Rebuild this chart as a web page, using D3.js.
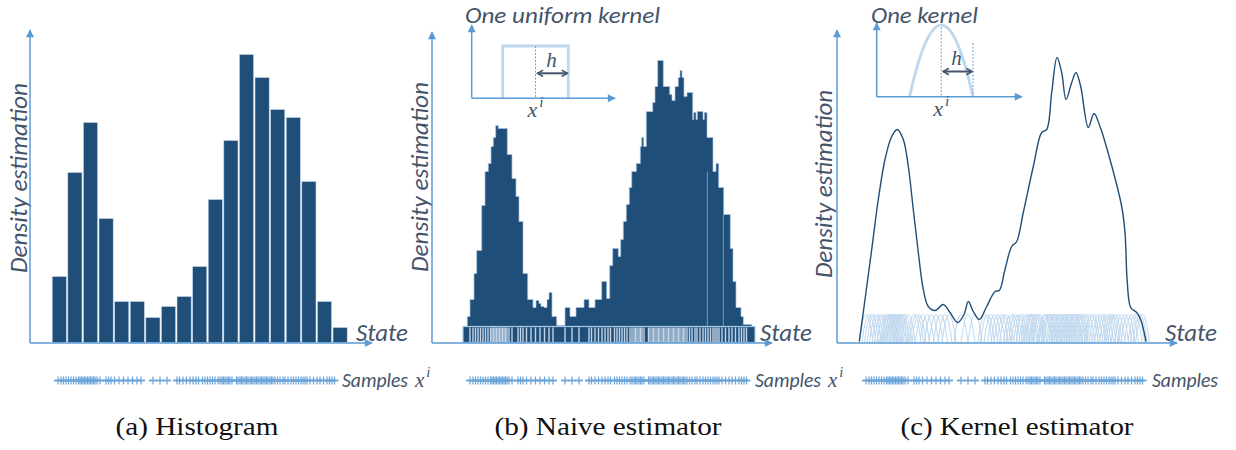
<!DOCTYPE html>
<html>
<head>
<meta charset="utf-8">
<script src="https://cdn.jsdelivr.net/npm/d3@7"></script>
<style>
  body { margin: 0; background: #fff; }
  svg { display: block; }
</style>
</head>
<body>
<div id="chart"></div>
<script>
/* Density estimation: histogram / naive estimator / kernel estimator */

// ---- data (state units 0..278, density in arbitrary units) ----
const samples = [1, 4, 6.5, 9, 11.5, 14, 16.5, 19, 21.5, 23, 24.5, 26, 27.5, 29, 30.5, 32, 33.5, 35, 36.5, 38, 40, 43,
  49, 51.5, 54, 57.5, 62, 66.5, 71, 75.5, 80, 84,
  96, 103, 110,
  120, 122.5, 126, 129.5, 133, 136, 139, 141.5, 145.5, 148, 150.5, 153, 155.5, 158, 161, 163, 165, 166.5, 168, 170,
  171.5, 173, 175, 179.5, 181, 183, 184.5, 186, 188, 189.5, 191, 193, 194.5, 196, 198, 199.5, 201, 203, 204.5, 206,
  208, 209.5, 211, 213, 214.5, 216, 218, 220.5, 223, 226, 228, 231, 234, 236.5, 239, 241.5, 244, 246, 248, 250, 253,
  256.5, 260, 263, 266.5, 270, 272.5, 275, 277.5];

const histEdges = [-5.5, 10.1, 25.7, 41.3, 56.9, 72.5, 88.1, 103.7, 119.3, 134.9, 150.5, 166.1, 181.7, 197.3,
  212.9, 228.5, 244.1, 259.7, 275.3, 290.9];
const histHeights = [6.6, 17.0, 22.0, 12.4, 4.1, 4.1, 2.5, 3.6, 4.6, 7.6, 14.3, 20.2, 28.8, 26.5, 23.3, 22.5, 16.1, 4.1, 1.5];

const naiveEdges = [-1.7, 1, 5, 7.7, 12.7, 16, 19.3, 22, 24.3, 26.7, 29.3, 38.3, 43, 47, 50, 54, 58.7, 64, 67, 70, 72,
  75, 78, 80, 83, 87.7, 96, 101, 107, 115, 120, 126, 132.7, 137.7, 140.7, 143.7, 149.3, 151.7, 154.3, 157.3, 160.3,
  162.7, 167.3, 171.3, 172.7, 174.7, 177.3, 183.7, 186, 188.7, 194.3, 200.7, 203, 206, 209.3, 211, 213, 215, 218,
  223.7, 224.7, 227, 228.3, 234, 235.3, 238, 244, 247, 249.7, 254.7, 261.3, 264, 267, 272, 274.3, 282.7];
const naiveHeights = [2.6, 4.3, 6.9, 9.2, 13.7, 17.1, 17.9, 19.6, 20.5, 21.7, 21.4, 18.8, 16.4, 14.6, 12.1, 6.9, 4.3,
  3.5, 4.2, 3.9, 3.6, 3.5, 4.3, 5.0, 2.6, 1.7, 3.5, 2.6, 3.5, 4.3, 3.5, 4.3, 6.1, 4.4, 7.7, 9.4, 8.6, 10.3, 12.1,
  13.8, 15.5, 17.1, 17.9, 19.6, 20.5, 19.6, 23.1, 24.0, 25.6, 28.2, 25.6, 24.8, 24.2, 25.6, 26.5, 27.2, 26.5, 24.6,
  25.0, 22.3, 23.0, 22.3, 23.1, 22.3, 23.0, 20.5, 17.1, 17.9, 15.5, 12.8, 9.4, 6.1, 3.5, 2.6, 1.8];
const naiveSeams = [238.3, 254.3];

const kdeX = [-5.7, 0, 6.7, 13.3, 20, 26.7, 32.3, 38.3, 43.3, 48.3, 53.3, 58.3, 63.3, 70, 78.3, 85, 92.7, 99, 103.3,
  108.3, 114.3, 121.7, 130, 134.3, 140, 146.7, 151.7, 158.3, 168.3, 176.7, 181.7, 186.7, 192, 196.7, 201, 206.7,
  211, 215.7, 223.3, 229, 235, 245, 256.7, 260, 262.3, 265.7, 271.7, 275.7, 281];
const kdeY = [0.1, 4.3, 9.3, 14.3, 18.3, 20.6, 21.3, 20.3, 17.6, 13.3, 9.0, 5.3, 3.6, 3.2, 3.8, 3.0, 2.0, 2.8, 4.1,
  3.1, 2.3, 3.6, 5.1, 5.2, 7.3, 9.6, 10.1, 13.0, 17.6, 21.0, 21.3, 25.0, 28.5, 27.0, 24.3, 26.0, 27.0, 25.6, 21.5,
  22.9, 21.6, 18.3, 13.6, 11.0, 6.0, 3.5, 3.0, 2.3, 0.1];

const uniformKernel = [[-1, 0], [-1, 1], [1, 1], [1, 0]];
const captions = ['(a) Histogram', '(b) Naive estimator', '(c) Kernel estimator'];

// ---- layout ----
const W = 1236, H = 450;
const C = { navy: '#1f4e79', axis: '#5b9bd5', pale: '#bdd7ee', text: '#44546a' };
const SANS = "Carlito, Lato, 'Open Sans', sans-serif";
const SERIF = "'Liberation Serif', 'DejaVu Serif', serif";
const KH = 7;       // kernel half width (state units)
const KTOP = 2.8;   // kernel height in panel c

const panels = [
  { x0: 30,  yTop: 30, xEnd: 372,  rug: [57, 335],   ylab: [27, 178, 190],  stateX: 356,  sampX: 342,  sup: true,  cap: [197, 163] },
  { x0: 432, yTop: 32, xEnd: 772,  rug: [469, 747],  ylab: [428, 177, 190], stateX: 760,  sampX: 755,  sup: true,  cap: [608, 227] },
  { x0: 837, yTop: 30, xEnd: 1177, rug: [865, 1143], ylab: [832, 184, 188], stateX: 1165, sampX: 1152, sup: false, cap: [1017, 233] },
];
const AXIS_Y = 343, RUG_Y = 380.5;

const y = d3.scaleLinear().domain([0, 31.25]).range([342.5, 30]);

const svg = d3.select('#chart').append('svg')
  .attr('width', W).attr('height', H)
  .style('background', '#fff');

const defs = svg.append('defs');
defs.append('marker').attr('id', 'tri')
  .attr('viewBox', '0 0 10 10').attr('refX', 9).attr('refY', 5)
  .attr('markerUnits', 'userSpaceOnUse').attr('markerWidth', 9).attr('markerHeight', 8)
  .attr('orient', 'auto')
  .append('path').attr('d', 'M0,0L10,5L0,10z').attr('fill', C.axis);
defs.append('marker').attr('id', 'chev')
  .attr('viewBox', '0 0 10 10').attr('refX', 8).attr('refY', 5)
  .attr('markerUnits', 'userSpaceOnUse').attr('markerWidth', 8).attr('markerHeight', 8)
  .attr('orient', 'auto-start-reverse')
  .append('path').attr('d', 'M1,1L8,5L1,9').attr('fill', 'none')
  .attr('stroke', C.text).attr('stroke-width', 2);

function arrowLine(g, x1, y1, x2, y2, w) {
  g.append('line').attr('x1', x1).attr('y1', y1).attr('x2', x2).attr('y2', y2)
    .attr('stroke', C.axis).attr('stroke-width', w || 1.5).attr('marker-end', 'url(#tri)');
}

function sansText(g, txt, x, y0, size, len) {
  return g.append('text').attr('x', x).attr('y', y0)
    .attr('font-family', SANS).attr('font-style', 'italic').attr('font-size', size)
    .attr('fill', C.text).attr('textLength', len).attr('lengthAdjust', 'spacingAndGlyphs')
    .text(txt);
}

function mathX(g, x, y0, size, anchor) {
  const t = g.append('text').attr('x', x).attr('y', y0)
    .attr('font-family', SERIF).attr('font-style', 'italic').attr('font-size', size)
    .attr('fill', C.text).attr('text-anchor', anchor || 'start');
  t.append('tspan').text('x');
  t.append('tspan').attr('dy', -size * 0.45).attr('dx', 2).attr('font-size', size * 0.7).text('i');
}

// ---- common frame for each panel ----
panels.forEach((p, k) => {
  const g = svg.append('g').attr('class', 'frame');
  const xs = d3.scaleLinear().domain([0, 278]).range(p.rug);

  // rug of samples as "+" marks
  const rug = g.append('g').attr('stroke', C.axis).attr('opacity', 0.9);
  rug.selectAll('line.v').data(samples).join('line').attr('class', 'v')
    .attr('x1', d => xs(d)).attr('x2', d => xs(d))
    .attr('y1', RUG_Y - 4).attr('y2', RUG_Y + 4).attr('stroke-width', 1.2);
  rug.selectAll('line.h').data(samples).join('line').attr('class', 'h')
    .attr('x1', d => xs(d) - 4).attr('x2', d => xs(d) + 4)
    .attr('y1', RUG_Y).attr('y2', RUG_Y).attr('stroke-width', 1.8);

  sansText(g, 'Samples', p.sampX, 386.5, 19.5, 66);
  if (p.sup) mathX(g, p.sampX + 73, 386.5, 21);

  g.append('text')
    .attr('transform', `translate(${p.ylab[0]},${p.ylab[1]}) rotate(-90)`)
    .attr('text-anchor', 'middle')
    .attr('font-family', SANS).attr('font-style', 'italic').attr('font-size', 24.5)
    .attr('fill', C.text).attr('textLength', p.ylab[2]).attr('lengthAdjust', 'spacingAndGlyphs')
    .text('Density estimation');

  sansText(g, 'State', p.stateX, 340.5, 24.5, 52);

  g.append('text').attr('x', p.cap[0]).attr('y', 435)
    .attr('text-anchor', 'middle').attr('font-family', SERIF).attr('font-size', 26)
    .attr('fill', '#111').attr('textLength', p.cap[1]).attr('lengthAdjust', 'spacingAndGlyphs')
    .text(captions[k]);

  p.g = g; p.xs = xs;
});

// ---- (a) histogram ----
{
  const p = panels[0], xs = p.xs;
  p.g.append('g').selectAll('rect').data(histHeights).join('rect')
    .attr('x', (d, i) => xs(histEdges[i]) + 0.7)
    .attr('width', (d, i) => xs(histEdges[i + 1]) - xs(histEdges[i]) - 1.4)
    .attr('y', d => y(d)).attr('height', d => y(0) - y(d))
    .attr('fill', C.navy).attr('stroke', '#c9d9ea').attr('stroke-width', 0.6);
}

// ---- (b) naive estimator ----
{
  const p = panels[1], xs = p.xs, g = p.g;
  const pts = naiveHeights.map((h, i) => ({ x: naiveEdges[i], h }));
  pts.push({ x: naiveEdges[naiveEdges.length - 1], h: naiveHeights[naiveHeights.length - 1] });
  const area = d3.area().curve(d3.curveStepAfter)
    .x(d => xs(d.x)).y0(y(0)).y1(d => y(d.h));
  g.append('path').datum(pts).attr('d', area)
    .attr('fill', C.navy).attr('stroke', '#a9c2dc').attr('stroke-width', 0.7);

  g.append('g').selectAll('line').data(naiveSeams).join('line')
    .attr('x1', d => xs(d)).attr('x2', d => xs(d))
    .attr('y1', d => y(naiveHeights[d3.bisectLeft(naiveEdges, d)])).attr('y2', y(1.6))
    .attr('stroke', '#8fadcb').attr('stroke-width', 0.8);

  // barcode band of samples
  g.append('rect').attr('x', xs(-6)).attr('width', xs(286) - xs(-6))
    .attr('y', y(1.6)).attr('height', y(0) - y(1.6))
    .attr('fill', C.navy).attr('stroke', '#a9c8e6').attr('stroke-width', 1.2);
  g.append('g').selectAll('line').data(samples).join('line')
    .attr('x1', d => xs(d)).attr('x2', d => xs(d))
    .attr('y1', y(1.6) + 1).attr('y2', y(0) - 0.5)
    .attr('stroke', '#d4e3f3').attr('stroke-width', 1.4).attr('opacity', 0.9);

  // inset: one uniform kernel
  const ku = d3.scaleLinear().domain([-1, 1]).range([502.7, 568.3]);
  const kv = d3.scaleLinear().domain([0, 1]).range([98, 46]);
  g.append('path').datum(uniformKernel)
    .attr('d', d3.line().x(d => ku(d[0])).y(d => kv(d[1])))
    .attr('fill', 'none').attr('stroke', C.pale).attr('stroke-width', 2.8);
  g.append('line').attr('x1', ku(0)).attr('x2', ku(0)).attr('y1', kv(1)).attr('y2', kv(0))
    .attr('stroke', C.axis).attr('stroke-width', 0.9).attr('stroke-dasharray', '2,1.5');
  arrowLine(g, 471.7, 98.3, 615, 98.3, 1.5);
  arrowLine(g, 471.7, 98.3, 471.7, 25, 1.5);
  g.append('line').attr('x1', ku(0) + 2).attr('x2', ku(1) - 1).attr('y1', 73.3).attr('y2', 73.3)
    .attr('stroke', C.text).attr('stroke-width', 2)
    .attr('marker-start', 'url(#chev)').attr('marker-end', 'url(#chev)');
  g.append('text').attr('x', 551.5).attr('y', 66.5).attr('text-anchor', 'middle')
    .attr('font-family', SERIF).attr('font-style', 'italic').attr('font-size', 21)
    .attr('fill', C.text).text('h');
  mathX(g, ku(0) - 8, 117, 22);
  sansText(g, 'One uniform kernel', 465, 23, 23, 195);
}

// ---- (c) kernel estimator ----
{
  const p = panels[2], xs = p.xs, g = p.g;
  const shape = d3.range(-1, 1.0001, 0.1);
  const kline = d3.line();
  g.append('g').selectAll('path').data(samples).join('path')
    .attr('d', s => kline(shape.map(u => [xs(s + u * KH), y(KTOP * (1 - u * u))])))
    .attr('fill', 'none').attr('stroke', C.pale).attr('stroke-width', 1);

  const kde = kdeX.map((x, i) => [x, kdeY[i]]);
  g.append('path').datum(kde)
    .attr('d', d3.line().curve(d3.curveCatmullRom.alpha(0.5)).x(d => xs(d[0])).y(d => y(d[1])))
    .attr('fill', 'none').attr('stroke', C.navy).attr('stroke-width', 1.4);

  // inset: one kernel
  const ku = d3.scaleLinear().domain([-1, 1]).range([909.5, 973]);
  const kv = d3.scaleLinear().domain([0, 1]).range([97, 25]);
  g.append('path').datum(shape)
    .attr('d', d3.line().x(u => ku(u)).y(u => kv(1 - u * u)))
    .attr('fill', 'none').attr('stroke', C.pale).attr('stroke-width', 2.8);
  g.append('line').attr('x1', ku(0)).attr('x2', ku(0)).attr('y1', kv(0.97)).attr('y2', kv(0))
    .attr('stroke', C.axis).attr('stroke-width', 0.9).attr('stroke-dasharray', '2,1.5');
  g.append('line').attr('x1', ku(1)).attr('x2', ku(1)).attr('y1', 43).attr('y2', kv(0))
    .attr('stroke', C.axis).attr('stroke-width', 0.9).attr('stroke-dasharray', '2,1.5');
  arrowLine(g, 876.7, 96.7, 1022, 96.7, 1.5);
  arrowLine(g, 876.7, 96.7, 876.7, 23, 1.5);
  g.append('line').attr('x1', ku(0) + 2).attr('x2', ku(1) - 1).attr('y1', 71.5).attr('y2', 71.5)
    .attr('stroke', C.text).attr('stroke-width', 2)
    .attr('marker-start', 'url(#chev)').attr('marker-end', 'url(#chev)');
  g.append('text').attr('x', 956.5).attr('y', 65).attr('text-anchor', 'middle')
    .attr('font-family', SERIF).attr('font-style', 'italic').attr('font-size', 21)
    .attr('fill', C.text).text('h');
  mathX(g, ku(0) - 8, 116, 22);
  sansText(g, 'One kernel', 871, 23, 23, 107);
}

// ---- main axes (drawn last so they sit on top) ----
panels.forEach(p => {
  arrowLine(p.g, p.x0, AXIS_Y, p.xEnd, AXIS_Y, 1.5);
  arrowLine(p.g, p.x0, AXIS_Y, p.x0, p.yTop, 1.5);
});
</script>
</body>
</html>
